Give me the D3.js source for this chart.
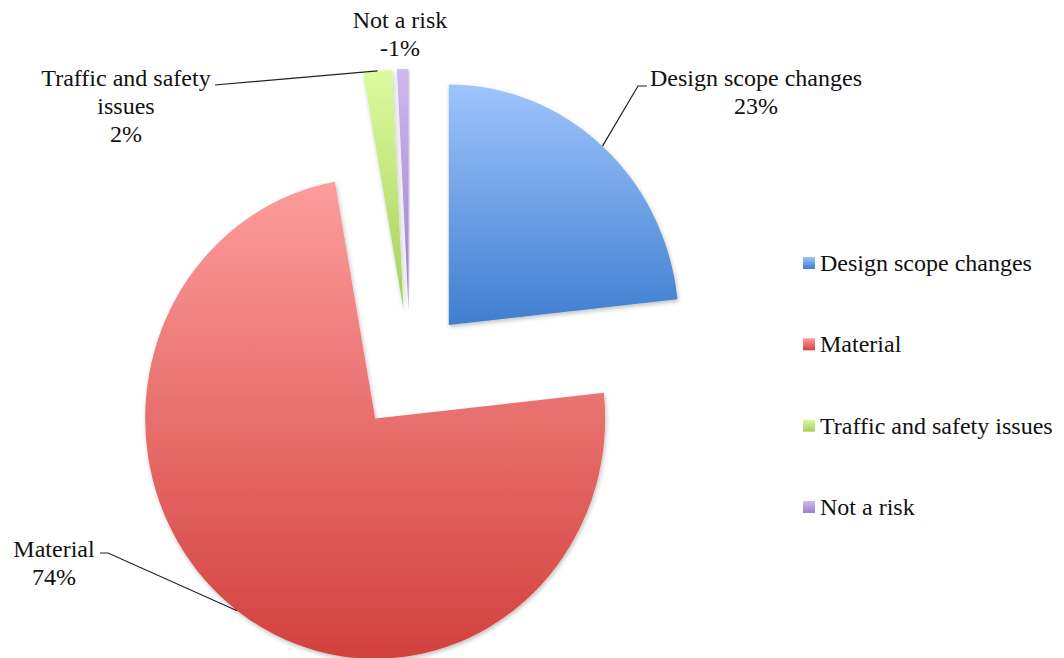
<!DOCTYPE html>
<html>
<head>
<meta charset="utf-8">
<script src="https://cdn.jsdelivr.net/npm/d3@7/dist/d3.min.js"></script>
<style>
  html, body { margin: 0; padding: 0; background: #fff; }
</style>
</head>
<body>
<svg id="chart" width="1064" height="658"></svg>
<script>
// ---- data ----
const categories = ["Design scope changes", "Material", "Traffic and safety issues", "Not a risk"];
const shares = [23.3, 73.9, 2.0, 0.8];          // slice sizes
const percentLabels = ["23%", "74%", "2%", "-1%"]; // labels as printed
const labelLines = [["Design scope changes"], ["Material"], ["Traffic and safety", "issues"], ["Not a risk"]];
const topColors = ["#9ec4fc", "#fd9d9c", "#dcfb9e", "#cdb9ee"];
const bottomColors = ["#3f7ed0", "#d2413d", "#a6cf5c", "#9a7fcf"];

// ---- layout ----
const W = 1064, H = 658;
const cx = 410, cy = 370, R = 230, yStretch = 1.045, explode = 58;
const fontSize = 24;
const FONT = "Liberation Serif";

const svg = d3.select("#chart");
const defs = svg.append("defs");

const shadow = defs.append("filter").attr("id", "shadow")
  .attr("x", "-10%").attr("y", "-10%").attr("width", "120%").attr("height", "120%");
shadow.append("feDropShadow").attr("dx", 1).attr("dy", 2).attr("stdDeviation", 2)
  .attr("flood-color", "#000").attr("flood-opacity", 0.25);

categories.forEach((c, i) => {
  const g = defs.append("linearGradient").attr("id", "grad" + i)
    .attr("x1", 0).attr("y1", 0).attr("x2", 0).attr("y2", 1);
  g.append("stop").attr("offset", "0%").attr("stop-color", topColors[i]);
  g.append("stop").attr("offset", "100%").attr("stop-color", bottomColors[i]);
});

const pie = d3.pie().sort(null).value(d => d)(shares);
const arc = d3.arc().innerRadius(0).outerRadius(R);

function offsetOf(d) {
  const a = (d.startAngle + d.endAngle) / 2;
  return [explode * Math.sin(a), -explode * Math.cos(a) * yStretch];
}
function arcMid(d) {
  const a = (d.startAngle + d.endAngle) / 2;
  const o = offsetOf(d);
  return [cx + o[0] + R * Math.sin(a), cy + o[1] - R * Math.cos(a) * yStretch];
}

const pieG = svg.append("g");
pie.forEach((d, i) => {
  const o = offsetOf(d);
  pieG.append("path")
    .attr("d", arc(d))
    .attr("transform", `translate(${cx + o[0]},${cy + o[1]}) scale(1,${yStretch})`)
    .attr("fill", `url(#grad${i})`)
    .attr("filter", "url(#shadow)");
});

// ---- data labels ----
const labelLayout = [
  { line: [[638, 86], [647, 86]], tx: 756, ty: 86 },
  { line: [[108, 553], [100, 553]], tx: 54, ty: 557 },
  { line: [[215, 85]], tx: 126, ty: 86 },
  { line: null, tx: 400, ty: 28 }
];
const lineH = 28;
pie.forEach((d, i) => {
  const L = labelLayout[i];
  if (L.line) {
    const pts = [arcMid(d)].concat(L.line);
    svg.append("path")
      .attr("d", d3.line()(pts))
      .attr("fill", "none").attr("stroke", "#222").attr("stroke-width", 1.2);
  }
  const lines = labelLines[i].concat([percentLabels[i]]);
  const t = svg.append("text").attr("text-anchor", "middle")
    .attr("font-family", FONT).attr("font-size", fontSize).attr("fill", "#111");
  lines.forEach((s, k) => {
    t.append("tspan").attr("x", L.tx).attr("y", L.ty + k * lineH).text(s);
  });
});

// ---- legend ----
const legendY = d3.scalePoint().domain(categories).range([263, 507]);
const lg = svg.append("g");
categories.forEach((c, i) => {
  const y = legendY(c);
  lg.append("rect").attr("x", 803).attr("y", y - 6).attr("width", 12).attr("height", 12)
    .attr("fill", `url(#grad${i})`);
  lg.append("text").attr("x", 820).attr("y", y + 8)
    .attr("font-family", FONT).attr("font-size", fontSize).attr("fill", "#111").text(c);
});
</script>
</body>
</html>
